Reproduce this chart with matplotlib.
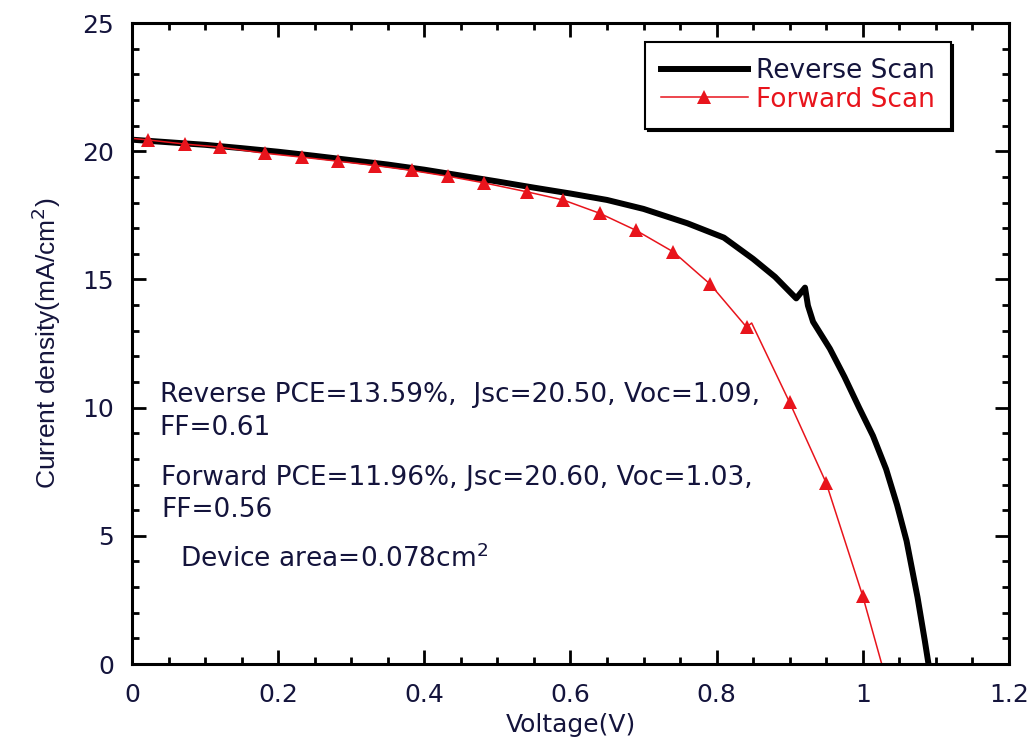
import matplotlib.pyplot as plt
from matplotlib.ticker import MultipleLocator, FuncFormatter

# reverse scan (black, thick)
rev_v = [0.0, 0.05, 0.1, 0.15, 0.2, 0.25, 0.3, 0.35, 0.4, 0.45, 0.5, 0.55, 0.6,
         0.65, 0.7, 0.76, 0.81, 0.85, 0.88, 0.909, 0.921, 0.925, 0.932, 0.955,
         0.975, 0.995, 1.014, 1.032, 1.047, 1.06, 1.075, 1.085, 1.09]
rev_j = [20.45, 20.35, 20.25, 20.12, 19.98, 19.82, 19.65, 19.48, 19.28, 19.05,
         18.82, 18.58, 18.35, 18.1, 17.75, 17.19, 16.63, 15.8, 15.1, 14.26,
         14.68, 13.98, 13.35, 12.3, 11.2, 10.0, 8.9, 7.6, 6.2, 4.8, 2.6, 0.9, 0.0]

# forward scan (red, triangles)
fwd_v = [0.0, 0.022, 0.072, 0.12, 0.182, 0.232, 0.282, 0.333, 0.383, 0.433, 0.481,
         0.54, 0.59, 0.64, 0.69, 0.741, 0.791, 0.841, 0.848, 0.9, 0.95, 1.0, 1.026]
fwd_j = [20.5, 20.44, 20.28, 20.16, 19.92, 19.77, 19.61, 19.44, 19.25, 19.02, 18.77,
         18.42, 18.1, 17.58, 16.91, 16.07, 14.82, 13.14, 13.3, 10.2, 7.06, 2.65, 0.0]
fwd_marks = [1, 2, 3, 4, 5, 6, 7, 8, 9, 10, 11, 12, 13, 14, 15, 16, 17, 19, 20, 21]

x_ticks = [0, 0.2, 0.4, 0.6, 0.8, 1.0, 1.2]
y_ticks = [0, 5, 10, 15, 20, 25]

txt_color = '#14143c'
red = '#e8141c'
plt.rcParams['font.family'] = ['DejaVu Sans']

fig = plt.figure(figsize=(10.34, 7.55), dpi=100)
ax = fig.add_axes([0.1277, 0.1205, 0.848, 0.849])

ax.plot(rev_v, rev_j, color='black', lw=4.3, label='Reverse Scan')
ax.plot(fwd_v, fwd_j, color=red, lw=1.1, marker='^', markersize=10.5,
        markevery=fwd_marks, markeredgewidth=0, label='Forward Scan')

ax.set_xlim(0, 1.2)
ax.set_ylim(0, 25)
ax.set_xticks(x_ticks)
ax.set_yticks(y_ticks)
ax.xaxis.set_minor_locator(MultipleLocator(0.05))
ax.yaxis.set_minor_locator(MultipleLocator(1))
ax.xaxis.set_major_formatter(FuncFormatter(lambda v, p: '%g' % v))
ax.tick_params(which='both', direction='in', top=True, right=True, width=2,
               labelsize=18, labelcolor=txt_color)
ax.tick_params(axis='x', which='major', pad=14)
ax.tick_params(axis='y', which='major', pad=13)
ax.tick_params(which='major', length=10)
ax.tick_params(which='minor', length=5)
for s in ax.spines.values():
    s.set_linewidth(2.2)

ax.set_xlabel('Voltage(V)', fontsize=18, color=txt_color, labelpad=4)
ax.set_ylabel('Current density(mA/cm$^2$)', fontsize=19, color=txt_color,
              family='Liberation Sans', labelpad=14)

ax.text(0.038, 10.5, 'Reverse PCE=13.59%,  Jsc=20.50, Voc=1.09,', fontsize=19,
        color=txt_color, va='center')
ax.text(0.038, 9.2, 'FF=0.61', fontsize=19, color=txt_color, va='center')
ax.text(0.04, 7.25, 'Forward PCE=11.96%, Jsc=20.60, Voc=1.03,', fontsize=19,
        color=txt_color, va='center')
ax.text(0.04, 6.0, 'FF=0.56', fontsize=19, color=txt_color, va='center')
ax.text(0.066, 4.1, 'Device area=0.078cm$^2$', fontsize=19, color=txt_color, va='center')

leg = ax.legend(loc='upper left', bbox_to_anchor=(0.585, 0.97), borderaxespad=0,
                fontsize=19, fancybox=False, handlelength=3.3, handletextpad=0.3,
                labelspacing=0.1, borderpad=0.6,
                shadow={'color': 'black', 'alpha': 1})
leg.get_frame().set_edgecolor('black')
leg.get_frame().set_linewidth(1.5)
leg.get_texts()[0].set_color(txt_color)
leg.get_texts()[1].set_color(red)

fig.savefig('out.png', dpi=100)
